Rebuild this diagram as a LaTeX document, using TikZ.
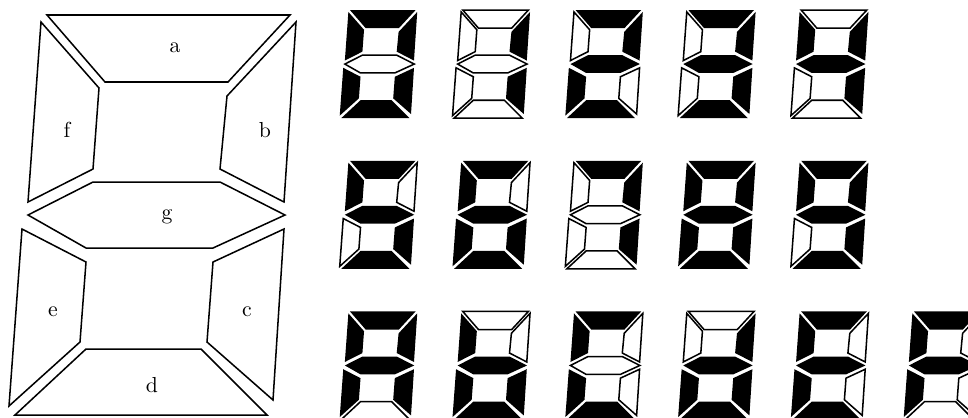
\documentclass[tikz,border=0pt]{standalone}

% segment outlines of one display, in pixels (y downwards)
\newcommand\sega{(47,15) -- (290,15) -- (228,82) -- (105,82) -- cycle}
\newcommand\segb{(296,22) -- (284,202) -- (220,169) -- (227,96) -- cycle}
\newcommand\segc{(284,229) -- (273,400) -- (207,342) -- (213,262) -- cycle}
\newcommand\segd{(86,349) -- (201,349) -- (267,415) -- (15,415) -- cycle}
\newcommand\sege{(22,229) -- (86,262) -- (80,342) -- (9,406) -- cycle}
\newcommand\segf{(41,22) -- (99,88) -- (93,169) -- (28,202) -- cycle}
\newcommand\segg{(28,215) -- (93,182) -- (220,182) -- (285,215) -- (213,248) -- (86,248) -- cycle}

\makeatletter
\newcommand\pickseg[2]{% #1 segment, #2 lit segments
  \edef\segtest{\noexpand\in@{#1}{#2}}\segtest
  \ifin@\def\segstyle{lit}\else\def\segstyle{unlit}\fi
  \expandafter\let\expandafter\segpath\csname seg#1\endcsname}
\makeatother

\tikzset{
  unlit/.style={draw=black,fill=white,line width=0.7pt},
  lit/.style={fill=black}
}

\begin{document}
\begin{tikzpicture}[x=0.46pt,y=-0.46pt]
  \useasboundingbox (0,0) rectangle (968,417);
  \clip (0,0) rectangle (968,417);

  % large display with segment names
  \draw[unlit] \sega;
  \draw[unlit] \segb;
  \draw[unlit] \segc;
  \draw[unlit] \segd;
  \draw[unlit] \sege;
  \draw[unlit] \segf;
  \draw[unlit] \segg;
  \node (a) at (175,48) {a};
  \node (b) at (265,130) {b};
  \node (c) at (247,312) {c};
  \node (d) at (152,385) {d};
  \node (e) at (53,312) {e};
  \node (f) at (67,130) {f};
  \node (g) at (167,217) {g};

  % hex digits 0..F
  \foreach \col/\row/\onsegs in {0/0/abcdef,1/0/bc,2/0/abdeg,3/0/abcdg,4/0/bcfg,
      0/1/acdfg,1/1/acdefg,2/1/abc,3/1/abcdefg,4/1/abcdfg,
      0/2/abcefg,1/2/cdefg,2/2/adef,3/2/bcdeg,4/2/adefg,5/2/aefg}{
    \begin{scope}[shift={(337.3+112.8*\col,6+150.7*\row)},scale=0.27]
      \foreach \s in {a,...,g}{
        \pickseg{\s}{\onsegs}
        \path[\segstyle] \segpath;
      }
    \end{scope}
  }
\end{tikzpicture}
\end{document}
